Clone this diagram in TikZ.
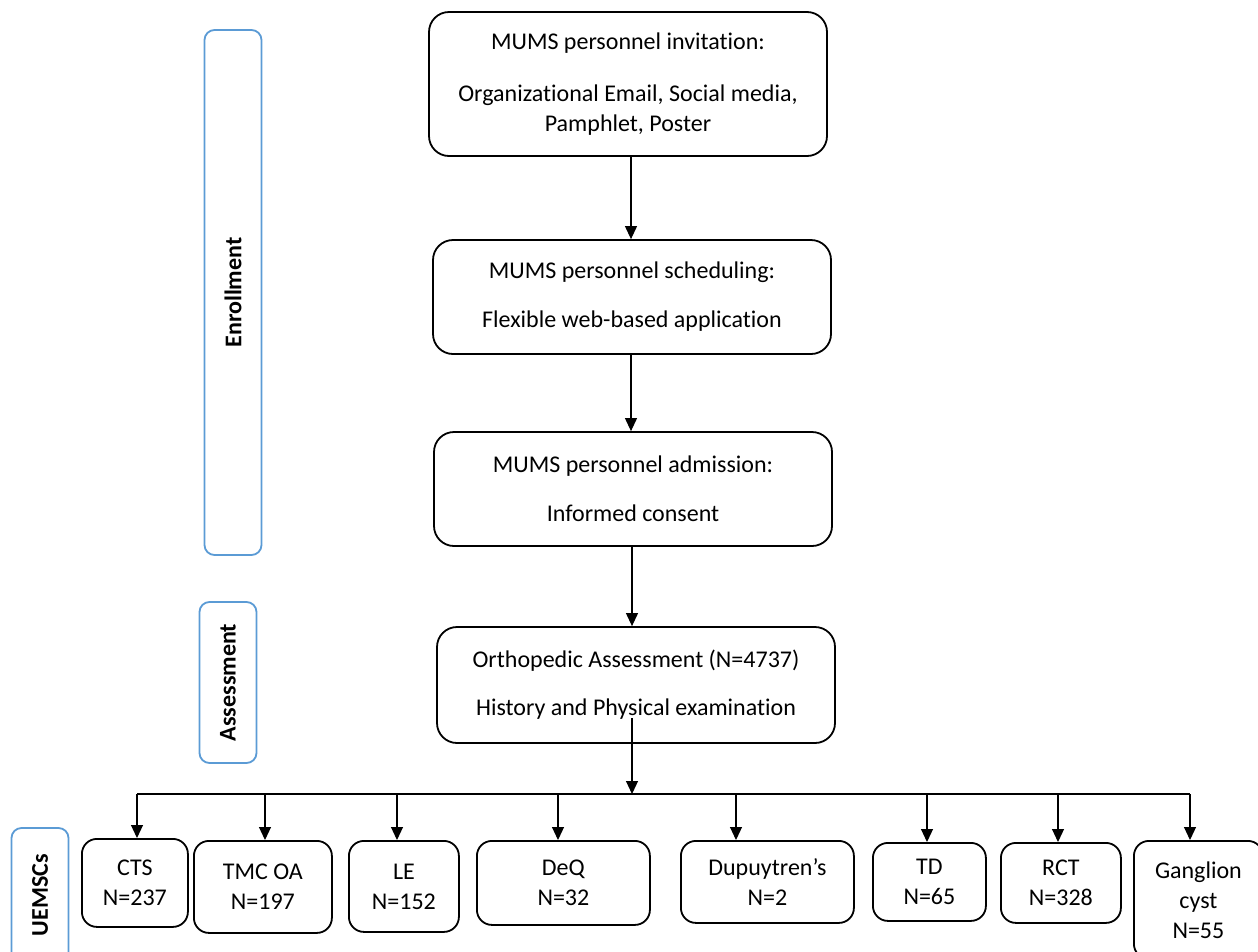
\documentclass[tikz,border=0pt]{standalone}
\usepackage{fontspec}
\setmainfont{Carlito}[RawFeature={-liga;-clig;-calt;-dlig}]
\usetikzlibrary{arrows.meta}
\definecolor{phaseblue}{RGB}{91,155,213}
\tikzset{
  %% ---- boxes ----
  stage/.style   = {rectangle, rounded corners=20pt,
                    draw=black, line width=1.8pt,
                    minimum width=398pt, minimum height=#1,
                    align=center, inner sep=0pt,
                    font=\fontsize{24}{30}\selectfont},
  stage/.default = 115pt,
  group/.style   = {rectangle, rounded corners=15pt,
                    draw=black, line width=1.8pt, anchor=north west,
                    align=center, inner sep=0pt,
                    font=\fontsize{24}{30}\selectfont},
  phase/.style   = {rectangle, rounded corners=10pt, rotate=90,
                    draw=phaseblue, line width=1.8pt,
                    minimum height=57pt, inner sep=0pt,
                    font=\fontsize{24}{28}\selectfont\bfseries},
  %% ---- arrows ----
  arrow/.style   = {-{Triangle[length=13pt, width=12pt]}, line width=1.1pt},
}

\begin{document}
\begin{tikzpicture}[x=1pt, y=-1pt]
\useasboundingbox (0,0) rectangle (1258,951);
\clip (0,0) rectangle (1258,951);

%% phases on the left
\node[phase, minimum width=525pt] (enroll) at (233,292.5) {Enrollment};
\node[phase, minimum width=161pt] (assess) at (228,682.5) {Assessment};
\node[phase, minimum width=134pt] (uemsc)  at (40,895)    {UEMSCs};

%% main flow
\node[stage=144pt] (invite) at (628,84)  {MUMS personnel invitation:\\[22pt]
  Organizational Email, Social media,\\Pamphlet, Poster};
\node[stage=114pt] (sched)  at (632,297) {MUMS personnel scheduling:\\[19pt]
  Flexible web-based application};
\node[stage=114pt] (admit)  at (633,489) {MUMS personnel admission:\\[19pt]
  Informed consent};
\node[stage=116pt] (ortho)  at (636,685) {Orthopedic Assessment (N=4737)\\[18pt]
  History and Physical examination};

\draw[arrow] (invite.south -| 631,0) -- (sched.north -| 631,0);
\draw[arrow] (sched.south -| 631,0)  -- (admit.north -| 631,0);
\draw[arrow] (admit.south -| 632,0)  -- (ortho.north -| 632,0);

%% UEMSC groups
\node[group, minimum width=106pt, minimum height=88pt]  (cts)  at (81,838)   {CTS\\N=237};
\node[group, minimum width=138pt, minimum height=92pt]  (tmc)  at (193,840)  {TMC OA\\N=197};
\node[group, minimum width=110pt, minimum height=91pt]  (le)   at (348,840)  {LE\\N=152};
\node[group, minimum width=173pt, minimum height=84pt]  (deq)  at (476,840)  {DeQ\\N=32};
\node[group, minimum width=173pt, minimum height=82pt]  (dup)  at (680,840)  {Dupuytren’s\\N=2};
\node[group, minimum width=113pt, minimum height=78pt]  (td)   at (872,842)  {TD\\N=65};
\node[group, minimum width=120pt, minimum height=80pt]  (rct)  at (1000,842) {RCT\\N=328};
\node[group, minimum width=129pt, minimum height=118pt] (gang) at (1133,840) {Ganglion\\cyst\\N=55};

%% branching
\coordinate (stem) at (632,718);
\coordinate (bus)  at (632,794);
\draw[arrow] (stem) -- (bus);
\foreach \n/\ax in {cts/137, tmc/265, le/397, deq/558, dup/736, td/927, rct/1058, gang/1190}
  \coordinate (bus-\n) at (\ax,794);
\draw[line width=1.1pt] (bus-cts) -- (bus-gang);
\foreach \n in {cts, tmc, le, deq, dup, td, rct, gang}
  \draw[arrow] (bus-\n) -- (bus-\n |- \n.north);
\end{tikzpicture}
\end{document}
